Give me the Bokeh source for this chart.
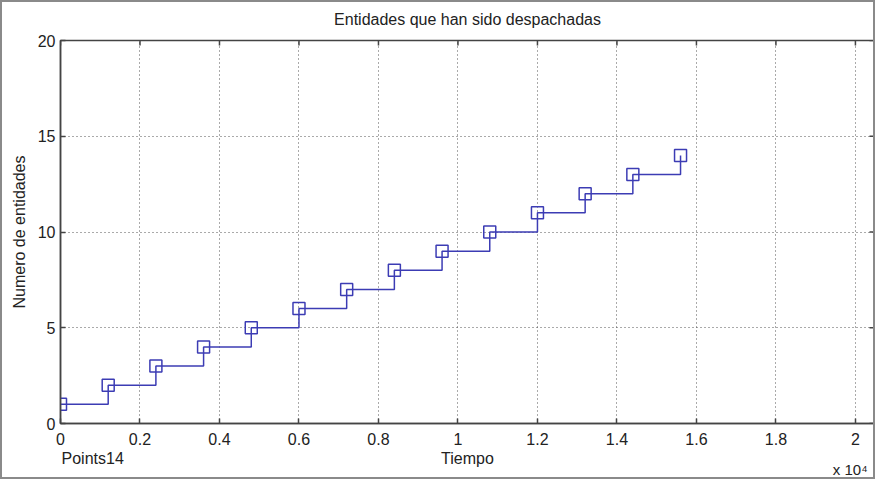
import math
from bokeh.plotting import figure
from bokeh.models import Range1d, FixedTicker, Title, LinearAxis
from bokeh.embed import file_html
from bokeh.resources import INLINE

# Data
tiempo = [0, 1200, 2400, 3600, 4800, 6000, 7200, 8400, 9600, 10800, 12000, 13200, 14400, 15600]
entidades = [1, 2, 3, 4, 5, 6, 7, 8, 9, 10, 11, 12, 13, 14]
x_ticks = [0, 2000, 4000, 6000, 8000, 10000, 12000, 14000, 16000, 18000, 20000]
x_tick_labels = ["0", "0.2", "0.4", "0.6", "0.8", "1", "1.2", "1.4", "1.6", "1.8", "2"]
y_ticks = [0, 5, 10, 15, 20]
x_min, x_max = 0, 20480
y_min, y_max = 0, 20

titulo = "Entidades que han sido despachadas"
etiqueta_x = "Tiempo"
etiqueta_y = "Numero de entidades"
nota_puntos = "Points14"
multiplicador = "x 10\u2074"

FONT = "Liberation Sans"
TXT = "#222222"
LINE = "#3c3cb4"
AX = "#444444"

p = figure(width=875, height=479, output_backend="svg", toolbar_location=None,
           x_range=Range1d(x_min, x_max), y_range=Range1d(y_min, y_max),
           min_border_left=58, min_border_right=3, min_border_top=38, min_border_bottom=58,
           title=titulo,
           styles={"border": "2px solid #8a8a8a", "box-sizing": "border-box"})

# spacer between frame and title
p.add_layout(Title(text=" ", text_font_size="1px", standoff=10), "above")

p.title.align = "center"
p.title.text_font = FONT
p.title.text_font_size = "16px"
p.title.text_font_style = "normal"
p.title.text_color = TXT
p.title.standoff = 0

p.outline_line_color = AX
p.outline_line_width = 1.5
p.background_fill_color = "white"
p.border_fill_color = "white"

for ax in (p.xaxis[0], p.yaxis[0]):
    ax.major_tick_in = 5
    ax.major_tick_out = 0
    ax.minor_tick_in = 0
    ax.minor_tick_out = 0
    ax.axis_line_color = AX
    ax.axis_line_width = 1.5
    ax.major_tick_line_color = AX
    ax.major_tick_line_width = 1.5
    ax.major_label_text_font = FONT
    ax.major_label_text_font_size = "16px"
    ax.major_label_text_color = TXT
    ax.axis_label_text_font = FONT
    ax.axis_label_text_font_size = "16px"
    ax.axis_label_text_font_style = "normal"
    ax.axis_label_text_color = TXT

p.xaxis[0].ticker = FixedTicker(ticks=x_ticks)
p.xaxis[0].major_label_overrides = {t: l for t, l in zip(x_ticks, x_tick_labels)}
p.xaxis[0].major_label_standoff = 9

p.yaxis[0].ticker = FixedTicker(ticks=y_ticks)
p.yaxis[0].major_label_standoff = 5
p.yaxis[0].axis_label = etiqueta_y
p.yaxis[0].axis_label_standoff = 7

# Text row under the tick labels: "Points14" (left) and "Tiempo" (centre)
pos_puntos = 810
pos_tiempo = x_max / 2
row1 = LinearAxis(ticker=FixedTicker(ticks=[pos_puntos, pos_tiempo]),
                  major_label_overrides={pos_puntos: nota_puntos, pos_tiempo: etiqueta_x},
                  major_label_standoff=2, major_tick_in=0, major_tick_out=0,
                  minor_tick_in=0, minor_tick_out=0, axis_line_color=None,
                  major_label_text_font=FONT, major_label_text_font_size="16px",
                  major_label_text_color=TXT)
p.add_layout(row1, "below")

# Exponent note at the bottom right
pos_mult = 19870
row2 = LinearAxis(ticker=FixedTicker(ticks=[pos_mult]),
                  major_label_overrides={pos_mult: multiplicador},
                  major_label_standoff=-9, major_tick_in=0, major_tick_out=0,
                  minor_tick_in=0, minor_tick_out=0, axis_line_color=None,
                  major_label_text_font=FONT, major_label_text_font_size="15px",
                  major_label_text_color=TXT)
p.add_layout(row2, "below")

p.xgrid.ticker = FixedTicker(ticks=x_ticks)
p.xgrid.grid_line_color = "#555555"
p.xgrid.grid_line_dash = "1 3"
p.xgrid.grid_line_width = 1
p.ygrid.grid_line_color = "#555555"
p.ygrid.grid_line_dash = "1 3"
p.ygrid.grid_line_width = 1

# MATLAB-style inward ticks on the top and right edges (clipped half of a dash marker)
p.scatter(x_ticks, [y_max] * len(x_ticks), marker="dash", angle=math.pi / 2, size=10,
          line_color=AX, line_width=1.5)
p.scatter([x_max] * len(y_ticks), y_ticks, marker="dash", angle=0, size=10,
          line_color=AX, line_width=1.5)

p.step(tiempo, entidades, mode="after", line_color=LINE, line_width=1.5)
p.scatter(tiempo, entidades, marker="square", size=12, fill_color=None,
          line_color=LINE, line_width=1.5)

open("out.html", "w").write(file_html(p, INLINE))
